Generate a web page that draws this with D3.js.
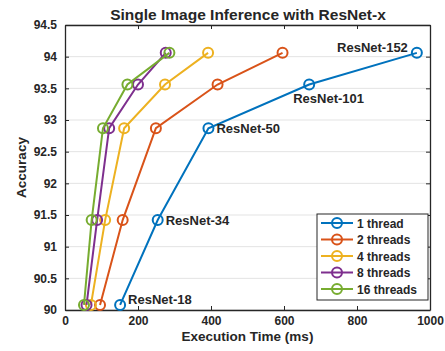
<!DOCTYPE html>
<html><head><meta charset="utf-8">
<script src="https://cdn.jsdelivr.net/npm/d3@7"></script>
<style>body{margin:0;background:#fff}svg{display:block}text{font-family:"Liberation Sans",Arial,Helvetica,sans-serif;font-weight:bold;fill:#262626}</style>
</head><body><svg id="c" width="445" height="351"></svg>
<script>
const models = ["ResNet-18","ResNet-34","ResNet-50","ResNet-101","ResNet-152"];
const accuracy = [90.08, 91.42, 92.87, 93.56, 94.06];
const seriesNames = ["1 thread","2 threads","4 threads","8 threads","16 threads"];
const t1 = [151, 254, 393, 669, 964];
const t2 = [96, 158, 249, 418, 596];
const t4 = [71, 110, 162, 274, 392];
const t8 = [59, 88, 121, 200, 276];
const t16 = [52, 73, 104, 171, 286];
const colors = ["#0072BD","#D95319","#EDB120","#7E2F8E","#77AC30"];
const xTicks = [0,200,400,600,800,1000];
const yTicks = [90,90.5,91,91.5,92,92.5,93,93.5,94,94.5];
const title = "Single Image Inference with ResNet-x";
const xLabel = "Execution Time (ms)";
const yLabel = "Accuracy";

const series = [t1,t2,t4,t8,t16];
const svg = d3.select("#c");
const L=65,R=430,T=25,B=310;
const x = d3.scaleLinear().domain([0,1000]).range([L,R]);
const y = d3.scaleLinear().domain([90,94.5]).range([B,T]);

// grid
svg.append("g").selectAll("line").data(yTicks).join("line")
  .attr("x1",L).attr("x2",R).attr("y1",d=>y(d)).attr("y2",d=>y(d))
  .attr("stroke","#e3e3e3").attr("stroke-width",1);

// axes
const fmt = d=>d3.format("")(d);
const ax = svg.append("g").attr("transform",`translate(0,${B})`)
  .call(d3.axisBottom(x).tickValues(xTicks).tickSizeInner(-4).tickSizeOuter(0).tickPadding(6).tickFormat(fmt));
const axT = svg.append("g").attr("transform",`translate(0,${T})`)
  .call(d3.axisTop(x).tickValues(xTicks).tickSizeInner(-4).tickSizeOuter(0).tickFormat(""));
const ay = svg.append("g").attr("transform",`translate(${L},0)`)
  .call(d3.axisLeft(y).tickValues(yTicks).tickSizeInner(-4).tickSizeOuter(0).tickPadding(8).tickFormat(fmt));
const ayR = svg.append("g").attr("transform",`translate(${R},0)`)
  .call(d3.axisRight(y).tickValues(yTicks).tickSizeInner(-4).tickSizeOuter(0).tickFormat(""));
[ax,axT,ay,ayR].forEach(g=>{
  g.select(".domain").attr("stroke","#262626").attr("stroke-width",1.3);
  g.selectAll(".tick line").attr("stroke","#262626").attr("stroke-width",1);
  g.selectAll(".tick text").style("font-size","12px").attr("fill","#262626");
});

// lines
const line = d3.line().x(d=>x(d[0])).y(d=>y(d[1]));
series.forEach((s,i)=>{
  const pts = s.map((v,j)=>[v,accuracy[j]]);
  svg.append("path").datum(pts).attr("d",line).attr("fill","none")
    .attr("stroke",colors[i]).attr("stroke-width",2);
  svg.append("g").selectAll("circle").data(pts).join("circle")
    .attr("cx",d=>x(d[0])).attr("cy",d=>y(d[1])).attr("r",5)
    .attr("fill","none").attr("stroke",colors[i]).attr("stroke-width",2);
});

// annotations next to the 1-thread points
models.forEach((m,j)=>{
  const px = x(t1[j]), py = y(accuracy[j]);
  const tx = j===4 ? px-9 : (j===3 ? px-16 : px+8);
  const ty = j===3 ? py+18 : (j===4 ? py-1 : (j===0 ? py-1 : py+5));
  svg.append("text").attr("x",tx).attr("y",ty)
    .attr("text-anchor", j===4 ? "end" : "start")
    .style("font-size","13px").text(m);
});

// legend
const lg = svg.append("g");
lg.append("rect").attr("x",317).attr("y",214).attr("width",111).attr("height",86)
  .attr("fill","#fff").attr("stroke","#262626").attr("stroke-width",1);
seriesNames.forEach((n,i)=>{
  const yy = 223 + i*16.5;
  lg.append("line").attr("x1",321).attr("x2",353).attr("y1",yy).attr("y2",yy)
    .attr("stroke",colors[i]).attr("stroke-width",2);
  lg.append("circle").attr("cx",337).attr("cy",yy).attr("r",5)
    .attr("fill","none").attr("stroke",colors[i]).attr("stroke-width",2);
  lg.append("text").attr("x",357).attr("y",yy+4.5).style("font-size","12px").text(n);
});

// title & labels
svg.append("text").attr("x",(L+R)/2+0.5).attr("y",19.5).attr("text-anchor","middle")
  .style("font-size","15.5px").text(title);
svg.append("text").attr("x",(L+R)/2).attr("y",341).attr("text-anchor","middle")
  .style("font-size","13.5px").text(xLabel);
svg.append("text").attr("transform",`translate(26,${(T+B)/2}) rotate(-90)`)
  .attr("text-anchor","middle").style("font-size","13.5px").text(yLabel);
</script></body></html>
